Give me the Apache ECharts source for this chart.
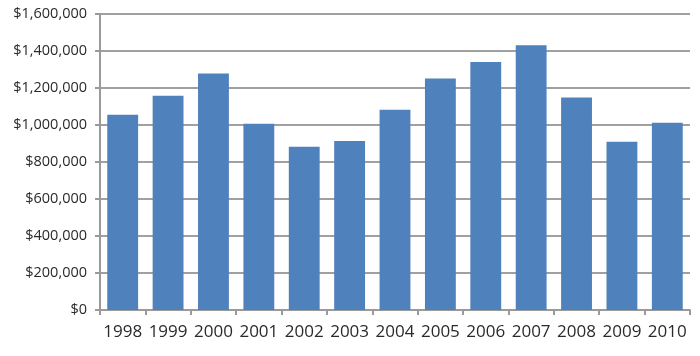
<!DOCTYPE html>
<html>
<head>
<meta charset="utf-8">
<script src="https://cdn.jsdelivr.net/npm/echarts@6/dist/echarts.min.js"></script>
<style>html,body{margin:0;padding:0;background:#fff}#c{width:700px;height:356px}</style>
</head>
<body>
<div id="c"></div>
<script>
const years = ['1998','1999','2000','2001','2002','2003','2004','2005','2006','2007','2008','2009','2010'];
const values = [1055000,1158000,1279000,1007000,883000,914000,1083000,1252000,1341000,1431000,1148000,910000,1012000];
const yMin = 0, yMax = 1600000, yStep = 200000;

const chart = echarts.init(document.getElementById('c'));
chart.setOption({
  animation: false,
  grid: {left: 100, right: 10, top: 14, bottom: 46},
  xAxis: {
    type: 'category', data: years,
    axisLine: {lineStyle: {color: '#9a9a9a', width: 2}},
    axisTick: {show: true, length: 5, lineStyle: {color: '#9a9a9a', width: 2}},
    axisLabel: {color: '#2a2a2a', fontSize: 17, fontFamily: 'Open Sans', margin: 14, interval: 0, hideOverlap: false}
  },
  yAxis: {
    type: 'value', min: yMin, max: yMax, interval: yStep,
    axisLine: {show: true, lineStyle: {color: '#9a9a9a', width: 2}},
    axisTick: {show: true, length: 5, lineStyle: {color: '#9a9a9a', width: 2}},
    splitLine: {lineStyle: {color: '#a0a0a0', width: 2}},
    axisLabel: {
      color: '#2a2a2a', fontSize: 14.5, fontFamily: 'Open Sans', margin: 13,
      formatter: v => '$' + v.toLocaleString('en-US')
    }
  },
  series: [{
    type: 'bar', data: values, barCategoryGap: '32%',
    itemStyle: {color: '#4F81BD'}
  }]
});
</script>
</body>
</html>
